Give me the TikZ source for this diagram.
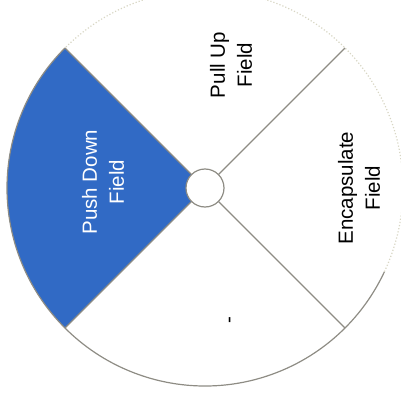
\documentclass[tikz,border=0pt]{standalone}
\usepackage{fontspec}
\setmainfont{Liberation Sans}
\definecolor{selblue}{HTML}{316AC5}
\definecolor{rim}{HTML}{8E8C84}
\definecolor{fadedrim}{HTML}{D8D6C4}

\begin{document}
\begin{tikzpicture}[x=1pt, y=1pt, font=\fontsize{20.5}{27}\selectfont,
  lbl/.style={rotate=90, align=center, inner sep=0pt},
  spoke/.style={draw=rim, line width=1.2pt}]
\useasboundingbox (-205,-214) rectangle (196,188);
\fill[selblue] (0,0) -- (135:198) arc[start angle=135, end angle=225, radius=198] -- cycle;
\draw[rim, line width=1.2pt] (135:198) arc[start angle=135, end angle=335, radius=198];
\draw[fadedrim, line width=1.2pt, dotted] (-25:198) arc[start angle=-25, end angle=135, radius=198];
\node[circle, draw=rim, fill=white, line width=1.2pt, minimum size=38pt, inner sep=0pt] (hub) at (0,0) {};
\foreach \a/\n in {45/ne, 135/nw, 225/sw, 315/se} { \coordinate (\n) at (\a:198); \draw[spoke] (hub) -- (\n); }
\node[lbl] (pull) at (26,123) {Pull Up\\Field};
\node[lbl, white] (push) at (-102,6) {Push Down\\Field};
\node[lbl] (encap) at (154,0) {Encapsulate\\Field};
\node[lbl] (blank) at (27,-132) {-};
\end{tikzpicture}
\end{document}
